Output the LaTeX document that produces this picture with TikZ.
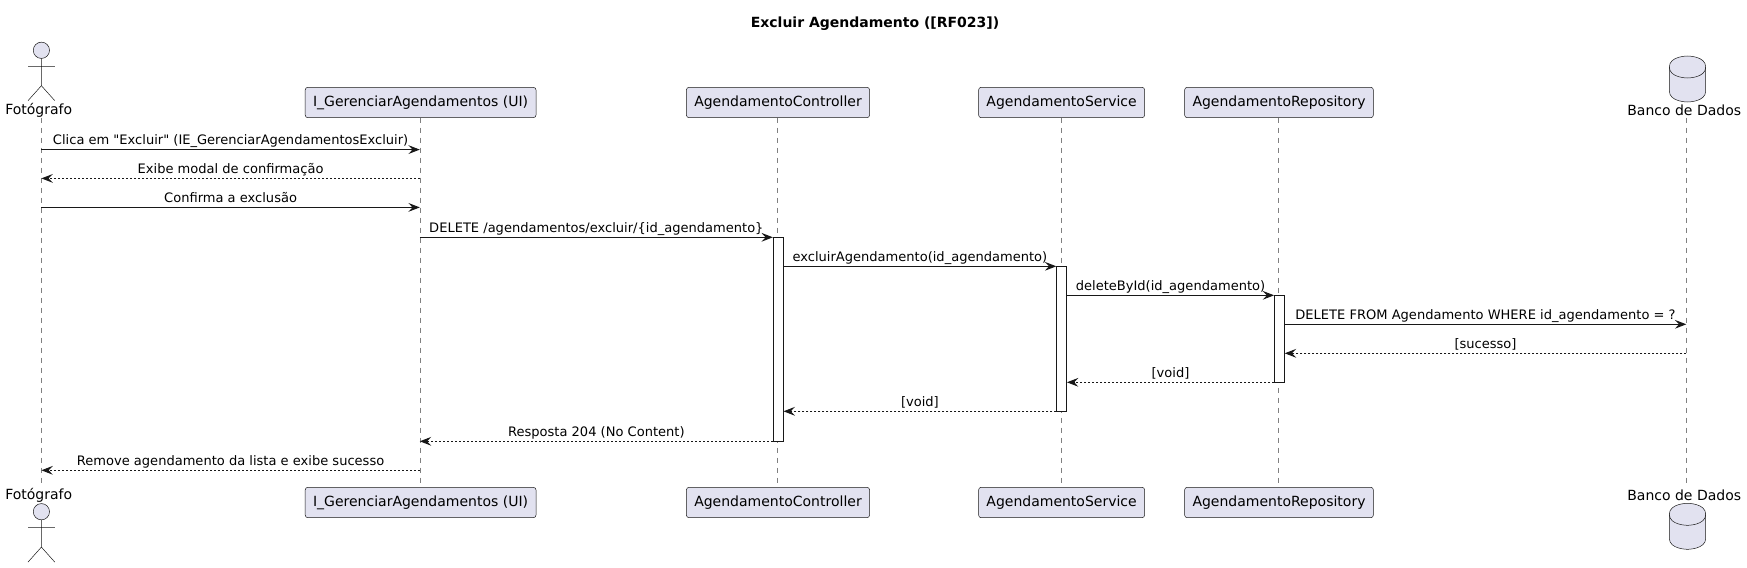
\documentclass[tikz,border=0pt]{standalone}
\usepackage{fontspec}
\setmainfont[Ligatures=TeXOff]{DejaVu Sans}
\usetikzlibrary{arrows.meta}
\definecolor{boxfill}{HTML}{E2E2F0}
\definecolor{umlline}{HTML}{181818}
\tikzset{
  partbox/.style={draw=umlline,line width=0.375pt,fill=boxfill,rounded corners=2pt,minimum height=22.8pt,inner xsep=5.9pt,inner ysep=0pt,font=\fontsize{10.5}{13}\selectfont},
  partname/.style={inner sep=0pt,font=\fontsize{10.5}{13}\selectfont},
  lifeline/.style={draw=umlline!55,line width=0.375pt,dash pattern=on 3.75pt off 3.75pt},
  actbar/.style={draw=umlline,line width=0.75pt,fill=white,minimum width=7.2pt,inner sep=0pt},
  msg/.style={draw=umlline,line width=0.75pt,-{Stealth[length=8.6pt,width=6.6pt,inset=3.2pt]}},
  reply/.style={msg,dash pattern=on 1.5pt off 1.5pt},
  msgtext/.style={anchor=base,yshift=3.6pt,inner sep=0pt,font=\fontsize{9.78}{12}\selectfont},
  actorfig/.pic={
    \draw[umlline,line width=0.375pt,fill=boxfill] (0,0) circle (6.1pt);
    \draw[umlline,line width=0.375pt] (0,8.2) -- (0,35.4) (-13.4,16) -- (13.4,16) (-13.4,50.4) -- (0,35.4) -- (13.4,50.4);
  },
  dbfig/.pic={
    \draw[umlline,line width=0.375pt,fill=boxfill] (-18.2,11) .. controls (-18.2,0) and (0,0) .. (0,0) .. controls (0,0) and (18.2,0) .. (18.2,11) -- (18.2,35) .. controls (18.2,46) and (0,46) .. (0,46) .. controls (0,46) and (-18.2,46) .. (-18.2,35) -- cycle;
    \draw[umlline,line width=0.375pt] (-18.2,11) .. controls (-18.2,22) and (0,22) .. (0,22) .. controls (0,22) and (18.2,22) .. (18.2,11);
  },
}
\begin{document}
\begin{tikzpicture}[x=0.75pt,y=-0.75pt]
\useasboundingbox (0,0) rectangle (1747,567);

\node[inner sep=0pt,font=\bfseries\fontsize{10.5}{13}\selectfont] (title) at (875,24) {Excluir Agendamento ([RF023])};

% lifeline ends
\foreach \name/\xx in {foto/41.4,ui/419.8,ctrl/777.4,svc/1061.4,repo/1278.6,db/1686.3}{
  \coordinate (\name top) at (\xx,117.5);
  \coordinate (\name end) at (\xx,483.5);
  \draw[lifeline] (\name top) -- (\name end);
}

% rows of the messages
\foreach \n/\yy in {1/149.6,2/178.4,3/207.4,4/237.3,5/266.3,6/295.3,7/324.3,8/353.3,9/382.3,10/411.3,11/441.3,12/470.3}
  \coordinate (m\n) at (0,\yy);

% participants, top and bottom
\foreach \yy/\tag in {102.5/a,502.5/b}{
  \node[partbox] (ui\tag) at (420.6,\yy) {I\_GerenciarAgendamentos (UI)};
  \node[partbox] (ctrl\tag) at (778,\yy) {AgendamentoController};
  \node[partbox] (svc\tag) at (1061.6,\yy) {AgendamentoService};
  \node[partbox] (repo\tag) at (1279,\yy) {AgendamentoRepository};
}
\pic (actora) at (41.4,50.3) {actorfig};
\pic (actorb) at (41.4,511.7) {actorfig};
\node[partname] (fotoa) at (38.7,110) {Fotógrafo};
\node[partname] (fotob) at (38.7,495) {Fotógrafo};
\pic (cyla) at (1687.5,56) {dbfig};
\pic (cylb) at (1687.5,503.3) {dbfig};
\node[partname] (dba) at (1684.2,110) {Banco de Dados};
\node[partname] (dbb) at (1684.2,495) {Banco de Dados};

% activation bars
\node[actbar,minimum height=153pt] (ctrlbar) at (778.2,339.3) {};
\node[actbar,minimum height=108.75pt] (svcbar) at (1061.6,338.8) {};
\node[actbar,minimum height=65.25pt] (repobar) at (1279.4,338.8) {};

% messages
\draw[msg] (fototop |- m1) -- node[msgtext] (t1) {Clica em "Excluir" (IE\_GerenciarAgendamentosExcluir)} (uitop |- m1);
\draw[reply] (uitop |- m2) -- node[msgtext] (t2) {Exibe modal de confirmação} (fototop |- m2);
\draw[msg] (fototop |- m3) -- node[msgtext] (t3) {Confirma a exclusão} (uitop |- m3);
\draw[msg] (uitop |- m4) -- node[msgtext] (t4) {DELETE /agendamentos/excluir/\{id\_agendamento\}} (ctrlbar.west |- m4);
\draw[msg] (ctrlbar.east |- m5) -- node[msgtext] (t5) {excluirAgendamento(id\_agendamento)} (svcbar.west |- m5);
\draw[msg] (svcbar.east |- m6) -- node[msgtext] (t6) {deleteById(id\_agendamento)} (repobar.west |- m6);
\draw[msg] (repobar.east |- m7) -- node[msgtext] (t7) {DELETE FROM Agendamento WHERE id\_agendamento = ?} (dbtop |- m7);
\draw[reply] (dbtop |- m8) -- node[msgtext] (t8) {[sucesso]} (repobar.east |- m8);
\draw[reply] (repobar.west |- m9) -- node[msgtext] (t9) {[void]} (svcbar.east |- m9);
\draw[reply] (svcbar.west |- m10) -- node[msgtext] (t10) {[void]} (ctrlbar.east |- m10);
\draw[reply] (ctrlbar.west |- m11) -- node[msgtext] (t11) {Resposta 204 (No Content)} (uitop |- m11);
\draw[reply] (uitop |- m12) -- node[msgtext] (t12) {Remove agendamento da lista e exibe sucesso} (fototop |- m12);

\end{tikzpicture}
\end{document}
